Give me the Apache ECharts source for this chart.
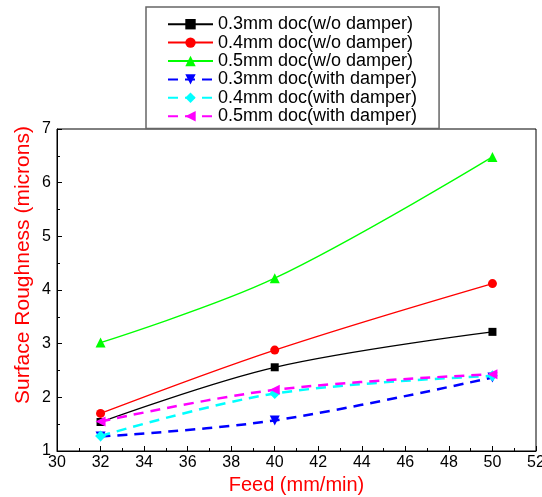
<!DOCTYPE html>
<html>
<head>
<meta charset="utf-8">
<script src="https://cdn.jsdelivr.net/npm/echarts@6/dist/echarts.min.js"></script>
<style>
  html, body { margin: 0; padding: 0; background: #fff; }
  #chart { width: 542px; height: 497px; }
</style>
</head>
<body>
<div id="chart"></div>
<script>
// Feed rates (mm/min)
const feeds = [32, 40, 50];

// Surface roughness (microns) for each depth of cut
const doc03NoDamper = [1.54, 2.56, 3.22];
const doc04NoDamper = [1.70, 2.88, 4.12];
const doc05NoDamper = [3.02, 4.22, 6.48];
const doc03Damper   = [1.27, 1.57, 2.37];
const doc04Damper   = [1.28, 2.07, 2.40];
const doc05Damper   = [1.55, 2.14, 2.43];

const seriesNames = [
  '0.3mm doc(w/o damper)',
  '0.4mm doc(w/o damper)',
  '0.5mm doc(w/o damper)',
  '0.3mm doc(with damper)',
  '0.4mm doc(with damper)',
  '0.5mm doc(with damper)'
];

const FONT = '"Liberation Sans", Arial, sans-serif';

function pairs(vals) {
  return feeds.map((f, i) => [f, vals[i]]);
}

function solid(name, vals, color, symbol, size) {
  return {
    name, type: 'line', data: pairs(vals), smooth: 0.35,
    symbol, symbolSize: size,
    itemStyle: { color },
    lineStyle: { color, width: 1.3, type: 'solid' }
  };
}

function dashed(name, vals, color, symbol, size, rotate) {
  return {
    name, type: 'line', data: pairs(vals), smooth: 0.35,
    symbol, symbolSize: size, symbolRotate: rotate || 0,
    itemStyle: { color },
    lineStyle: { color, width: 2.5, type: [10, 7] }
  };
}

const chart = echarts.init(document.getElementById('chart'), null, { renderer: 'canvas' });

chart.setOption({
  animation: false,
  backgroundColor: '#fff',
  grid: {
    left: 57, right: 6, top: 129, bottom: 46,
    outerBoundsMode: 'none',
    containLabel: false,
    show: true, borderColor: '#000', borderWidth: 1, backgroundColor: 'transparent'
  },
  legend: {
    orient: 'vertical',
    left: 146, top: 7,
    padding: [8, 22, 3, 21],
    itemWidth: 45, itemHeight: 13, itemGap: 0,
    backgroundColor: '#fff',
    borderColor: '#666', borderWidth: 1.5,
    textStyle: { fontFamily: FONT, fontSize: 18, color: '#000', lineHeight: 18.4 },
    data: seriesNames
  },
  // Vertical axis title, centred on the upper part of the axis
  graphic: [{
    type: 'text',
    x: 23, y: 265,
    rotation: Math.PI / 2,
    style: {
      text: 'Surface Roughness (microns)',
      fontFamily: FONT, fontSize: 21, fill: '#ff0000',
      align: 'center', verticalAlign: 'middle'
    }
  }],
  xAxis: {
    type: 'value', min: 30, max: 52, interval: 2,
    name: 'Feed (mm/min)', nameLocation: 'middle', nameGap: 24,
    nameTextStyle: { fontFamily: FONT, fontSize: 20, color: '#ff0000' },
    axisLine: { lineStyle: { color: '#000', width: 1 } },
    axisTick: { inside: true, length: 5, lineStyle: { color: '#000' } },
    minorTick: { show: true, splitNumber: 2, length: 3, lineStyle: { color: '#000' } },
    axisLabel: { fontFamily: FONT, fontSize: 16, color: '#000', margin: 4 },
    splitLine: { show: false }
  },
  yAxis: {
    type: 'value', min: 1, max: 7, interval: 1,
    axisLine: { show: true, lineStyle: { color: '#000', width: 1 } },
    axisTick: { show: true, inside: true, length: 5, lineStyle: { color: '#000' } },
    minorTick: { show: true, splitNumber: 2, length: 3, lineStyle: { color: '#000' } },
    axisLabel: { fontFamily: FONT, fontSize: 16, color: '#000', margin: 6 },
    splitLine: { show: false }
  },
  series: [
    solid(seriesNames[0], doc03NoDamper, '#000000', 'rect', 8),
    solid(seriesNames[1], doc04NoDamper, '#ff0000', 'circle', 9),
    solid(seriesNames[2], doc05NoDamper, '#00ff00', 'triangle', 10),
    dashed(seriesNames[3], doc03Damper, '#0000ff', 'triangle', 10, 180),
    dashed(seriesNames[4], doc04Damper, '#00ffff', 'diamond', 11),
    dashed(seriesNames[5], doc05Damper, '#ff00ff', 'triangle', 10, 90)
  ]
});
</script>
</body>
</html>
